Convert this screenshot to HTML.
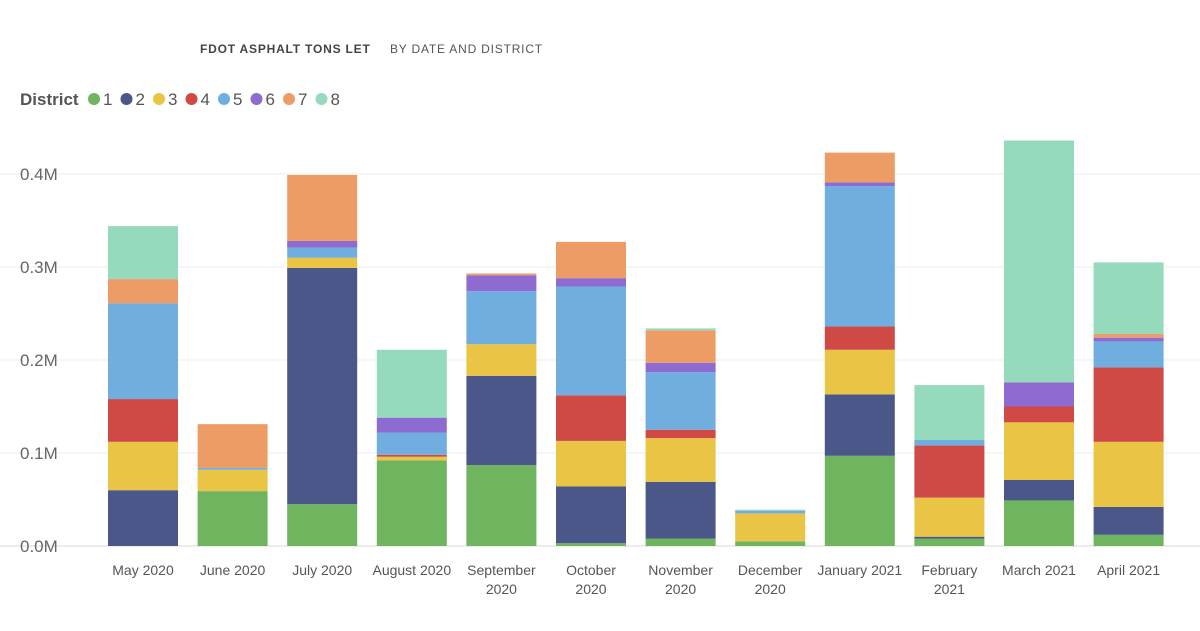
<!DOCTYPE html>
<html><head><meta charset="utf-8"><style>
body{margin:0;background:#fff;width:1200px;height:626px;overflow:hidden;font-family:"Liberation Sans",sans-serif}
svg text{font-family:"Liberation Sans",sans-serif}
</style></head><body>
<svg id="chart" width="1200" height="626" viewBox="0 0 1200 626">
<text x="200" y="53" font-size="12" font-weight="bold" fill="#444" letter-spacing="0.8">FDOT ASPHALT TONS LET</text>
<text x="390" y="53" font-size="12" fill="#555" letter-spacing="0.8">BY DATE AND DISTRICT</text>
<g id="legend"></g>
<g id="grid"></g>
<g id="yaxis"></g>
<g id="bars"></g>
<g id="xaxis"></g>
</svg>
<script>
const categories=[["May 2020"],["June 2020"],["July 2020"],["August 2020"],["September","2020"],["October","2020"],["November","2020"],["December","2020"],["January 2021"],["February","2021"],["March 2021"],["April 2021"]];
const districts=["1","2","3","4","5","6","7","8"];
const colors=["#6fb45f","#4a5788","#e9c445","#cf4a45","#70aee0","#8e6bd1","#ed9c66","#95dabd"];
// thousand tons per district per month
const d1=[0,59,45,92,87,3,8,5,97,8,49,12];
const d2=[60,0,254,0,96,61,61,0,66,2,22,30];
const d3=[52,23,11,4,34,49,47,30,48,42,62,70];
const d4=[46,0,0,2,0,49,9,0,25,56,17,80];
const d5=[103,2,11,24,57,117,62,3,151,6,0,28];
const d6=[0,0,7,16,17,9,10,0,4,0,26,4];
const d7=[26,47,71,0,2,39,35,0,32,0,0,4];
const d8=[57,0,0,73,0,0,2,1,0,59,260,77];
const series=[d1,d2,d3,d4,d5,d6,d7,d8];
const yTicks=[0,100,200,300,400];
const yTickLabels=["0.0M","0.1M","0.2M","0.3M","0.4M"];

const NS="http://www.w3.org/2000/svg";
function mk(tag,attrs,parent,txt){const e=document.createElementNS(NS,tag);for(const k in attrs)e.setAttribute(k,attrs[k]);if(txt!=null)e.textContent=txt;parent.appendChild(e);return e;}
const y0=546,pxPer=0.93;
function yScale(v){return y0-v*pxPer;}
function xCenter(i){return 143+i*89.6;}
const bw=70;

const grid=document.getElementById('grid'),ya=document.getElementById('yaxis');
yTicks.forEach((t,i)=>{
  const l=mk('line',{x1:0,x2:1200,y1:yScale(t),y2:yScale(t),stroke:i==0?'#d8d8d8':'#ececec','stroke-width':1},grid);
  
  
  const tx=mk('text',{x:20,y:yScale(t)+6,'font-size':17,fill:'#666'},ya,yTickLabels[i]);
  
  
});

const bars=document.getElementById('bars');
categories.forEach((c,i)=>{
  let acc=0;
  series.forEach((s,k)=>{
    const v=s[i];if(v<=0)return;
    const r=mk('rect',{x:xCenter(i)-bw/2,y:yScale(acc+v),width:bw,height:v*pxPer,fill:colors[k]},bars);
    
    
    acc+=v;
  });
});

const xa=document.getElementById('xaxis');
categories.forEach((c,i)=>{
  c.forEach((line,j)=>{
    const t=mk('text',{x:xCenter(i),y:575+j*19,'font-size':14,fill:'#555','text-anchor':'middle'},xa,line);
    
    
  });
});

const lg=document.getElementById('legend');
const lt=mk('text',{x:20,y:105,'font-size':17,'font-weight':'bold',fill:'#555'},lg,'District');


let lx=94;
districts.forEach((d,k)=>{
  const g=mk('g',{},lg);
  
  
  mk('circle',{cx:lx,cy:99,r:6,fill:colors[k]},g);
  mk('text',{x:lx+9,y:105,'font-size':17,fill:'#555'},g,d);
  lx+=32.5;
});
</script>
</body></html>
